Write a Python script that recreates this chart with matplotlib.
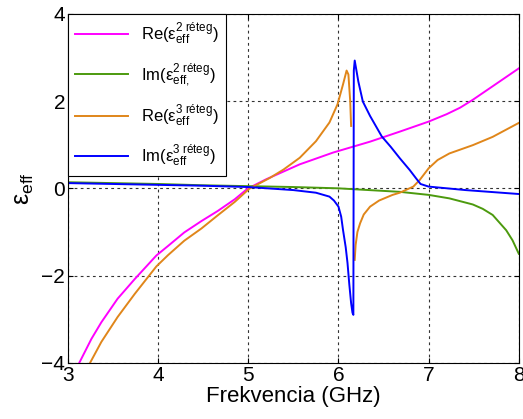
import numpy as np
import matplotlib.pyplot as plt

plt.rcParams['font.family'] = ['Liberation Sans', 'DejaVu Sans']
plt.rcParams['mathtext.fontset'] = 'custom'
plt.rcParams['mathtext.rm'] = 'Liberation Sans'
plt.rcParams['mathtext.it'] = 'Liberation Sans:italic'

# Re(eps_eff) 2 layers
f_re2 = [3.0, 3.13, 3.26, 3.37, 3.55, 3.74, 3.98, 4.11, 4.29, 4.48, 4.66, 4.85, 4.99,
         5.2, 5.57, 5.94, 6.35, 6.68, 7.0, 7.2, 7.35, 7.49, 7.71, 8.0]
re2 = [-4.5, -3.98, -3.45, -3.07, -2.53, -2.08, -1.54, -1.32, -1.01, -0.75, -0.52, -0.25, -0.01,
       0.21, 0.55, 0.82, 1.07, 1.30, 1.53, 1.70, 1.85, 2.03, 2.34, 2.75]

# Im(eps_eff) 2 layers
f_im2 = [3.0, 3.5, 4.0, 4.5, 5.0, 5.5, 6.0, 6.68, 7.0, 7.23, 7.49, 7.6, 7.71, 7.86, 7.93, 8.0]
im2 = [0.14, 0.12, 0.10, 0.07, 0.05, 0.03, 0.0, -0.08, -0.15, -0.23, -0.37, -0.47, -0.61, -0.96, -1.19, -1.5]

# Re(eps_eff) 3 layers (jump at resonance)
f_re3 = [3.15, 3.25, 3.37, 3.55, 3.74, 3.98, 4.11, 4.29, 4.48, 4.66, 4.85, 5.01,
         5.24, 5.39, 5.57, 5.75, 5.9, 5.99, 6.05, 6.09, 6.11, 6.13, 6.14, 6.16,
         6.18, 6.19, 6.21, 6.24, 6.28, 6.35, 6.45, 6.6, 6.68, 6.83, 6.9, 7.0,
         7.1, 7.23, 7.49, 7.71, 8.0]
re3 = [-4.4, -3.98, -3.52, -2.95, -2.42, -1.79, -1.53, -1.20, -0.92, -0.62, -0.31, -0.01,
       0.24, 0.43, 0.70, 1.08, 1.51, 1.93, 2.38, 2.70, 2.61, 2.0, 1.43, np.nan,
       -1.64, -1.3, -1.0, -0.8, -0.6, -0.42, -0.28, -0.15, -0.10, 0.04, 0.19, 0.46,
       0.65, 0.80, 0.99, 1.18, 1.50]

# Im(eps_eff) 3 layers
f_im3 = [3.0, 3.5, 4.0, 4.5, 5.0, 5.5, 5.75, 5.9, 5.95, 6.0, 6.03, 6.05, 6.08, 6.10,
         6.12, 6.14, 6.155, 6.165, 6.17, 6.18, 6.22, 6.27, 6.35, 6.48, 6.58, 6.68,
         6.79, 6.86, 6.91, 7.0, 7.41, 8.0]
im3 = [0.12, 0.10, 0.08, 0.06, 0.03, -0.04, -0.1, -0.19, -0.28, -0.42, -0.65, -0.95, -1.35, -1.71,
       -2.2, -2.63, -2.85, -2.9, 2.7, 2.93, 2.45, 1.99, 1.66, 1.19, 0.95, 0.69,
       0.42, 0.23, 0.10, 0.04, -0.04, -0.13]

labels = [r'Re($\mathrm{ε}^{\mathrm{2\ réteg}}_{\mathrm{eff}}$)',
          r'Im($\mathrm{ε}^{\mathrm{2\ réteg}}_{\mathrm{eff,}}$)',
          r'Re($\mathrm{ε}^{\mathrm{3\ réteg}}_{\mathrm{eff}}$)',
          r'Im($\mathrm{ε}^{\mathrm{3\ réteg}}_{\mathrm{eff}}$)']

fig = plt.figure(figsize=(5.23, 4.19), dpi=100)
ax = fig.add_axes([0.130, 0.134, 0.862, 0.833])

ax.plot(f_re2, re2, color='#ff00ff', lw=1.4, label=labels[0])
ax.plot(f_im2, im2, color='#4c9a0e', lw=1.4, label=labels[1])
ax.plot(f_re3, re3, color='#e0861a', lw=1.4, label=labels[2])
ax.plot(f_im3, im3, color='#0000ff', lw=1.4, label=labels[3])

ax.set_xlim(3, 8)
ax.set_ylim(-4, 4)
ax.set_xticks([3, 4, 5, 6, 7, 8])
ax.set_yticks([-4, -2, 0, 2, 4])
ax.grid(True, color='#333333', linestyle=(0, (2.5, 3)), lw=0.8)
ax.tick_params(direction='in', top=True, right=True, labelsize=15, pad=2)
ax.set_xlabel('Frekvencia (GHz)', fontsize=16, labelpad=1)
ax.set_ylabel(r'$\mathrm{ε}_{\mathrm{eff}}$', fontsize=18, labelpad=4)

leg = ax.legend(loc='upper left', fontsize=12, frameon=True, fancybox=False,
                framealpha=1, edgecolor='black', borderaxespad=0,
                handlelength=3.2, labelspacing=0.85)
leg.get_frame().set_linewidth(0.8)

plt.savefig('out.png')
